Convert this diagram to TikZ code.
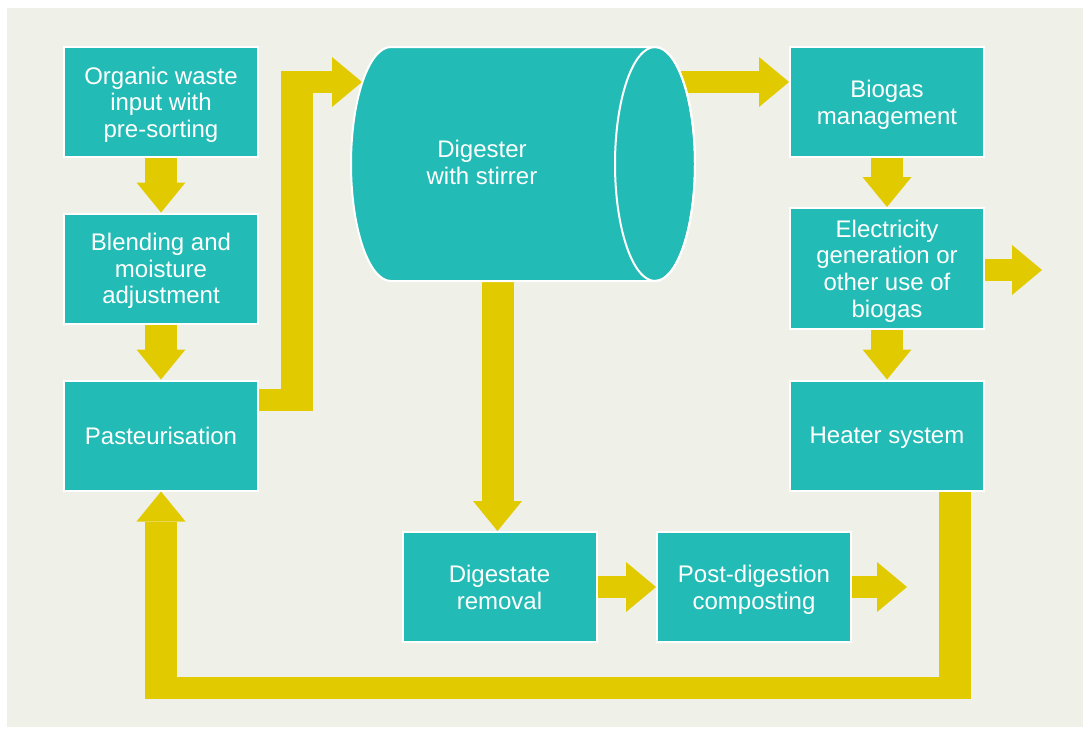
\documentclass[tikz,border=0pt]{standalone}
\usepackage{fontspec}
\setmainfont{Liberation Sans}
\usepackage{tikz}
\usetikzlibrary{
  arrows.meta,
  positioning,
  calc
}
\definecolor{bgcol}{HTML}{EFF0E8}
\definecolor{boxcol}{HTML}{23BBB5}
\definecolor{flowcol}{HTML}{E2CA00}

\begin{document}
\begin{tikzpicture}[
  x=0.75pt, y=0.75pt,
  pbox/.style={draw=white, line width=1.5pt, fill=boxcol,
               minimum width=145.5pt, minimum height=82.5pt, inner sep=0pt,
               text depth=0pt,
               text=white, align=center, font=\fontsize{18}{20}\selectfont},
  plbl/.style={text=white, align=center, text depth=0pt,
               font=\fontsize{18}{20}\selectfont},
  vbar/.style={draw=flowcol, line width=24pt},
  hbar/.style={draw=flowcol, line width=16.5pt},
  vtip/.style={-{Triangle[width=36.75pt, length=22.5pt, line width=0pt]}},
  htip/.style={-{Triangle[width=37.5pt, length=22.5pt, line width=0pt]}},
]
  \useasboundingbox (0,0) rectangle (1083,-729);
  \fill[bgcol] (7,-8) rectangle (1083,-727);

  % Left column
  \node[pbox] (org) at (161,-102) {Organic waste\\input with\\pre-sorting};
  \node[pbox] (blend) at (161,-268.5) {Blending and\\moisture\\adjustment};
  \node[pbox] (past) at (161,-435.5) {Pasteurisation};

  % Right column
  \node[pbox] (bio) at (887,-102) {Biogas\\management};
  \node[pbox, minimum height=90.75pt] (elec) at (887,-268.5)
    {Electricity\\generation or\\other use of\\biogas};
  \node[pbox] (heat) at (887,-435.5) {Heater system};

  % Bottom row
  \node[pbox] (dgst) at (499.5,-587) {Digestate\\removal};
  \node[pbox] (post) at (754,-587) {Post-digestion\\composting};

  % Bends and free ends
  \coordinate (b1) at (297,-399.5);
  \coordinate (b2) at (297,-82);
  \coordinate (digin) at (362,-82);
  \coordinate (digout) at (680,-82);
  \coordinate (digbot) at (497.5,-270);
  \coordinate (elecout) at (1042,-270);
  \coordinate (postout) at (907,-587);
  \coordinate (r1) at (955,-687.5);
  \coordinate (r2) at (past.south |- r1);

  % Flow arrows
  \draw[vbar, vtip] (org) -- (blend);
  \draw[vbar, vtip] (blend) -- (past);
  \draw[hbar] ([yshift=27pt]past.east) -- ([xshift=12pt]b1);
  \draw[vbar] ([yshift=-8.6pt]b1) -- ([yshift=8.25pt]b2);
  \draw[hbar, htip] ([xshift=-12pt]b2) -- (digin);
  \draw[hbar, htip] (digout) -- ([yshift=15pt]bio.west);
  \draw[vbar, vtip] (bio) -- (elec);
  \draw[hbar, htip] (elec.east |- elecout) -- (elecout);
  \draw[vbar, vtip] (elec) -- (heat);
  \draw[vbar, vtip] (digbot) -- (dgst.north -| digbot);
  \draw[hbar, htip] (dgst) -- (post);
  \draw[hbar, htip] (post) -- (postout);

  % Return loop to pasteurisation
  \draw[vbar] (heat.south -| r1) -- ([yshift=-8.6pt]r1);
  \draw[hbar] ([xshift=12pt]r1) -- ([xshift=-12pt]r2);
  \draw[vbar, vtip] ([yshift=-8.6pt]r2) -- (past.south);

  % Digester cylinder
  \draw[white, line width=1.5pt, fill=boxcol]
    (655,-47) -- (391,-47)
    arc[start angle=90, end angle=270, x radius=40, y radius=117]
    -- (655,-281)
    arc[start angle=-90, end angle=90, x radius=40, y radius=117]
    -- cycle;
  \draw[white, line width=1.5pt] (655,-164) ellipse[x radius=40, y radius=117];
  \node[plbl] (dig) at (482,-162) {Digester\\with stirrer};

\end{tikzpicture}
\end{document}
